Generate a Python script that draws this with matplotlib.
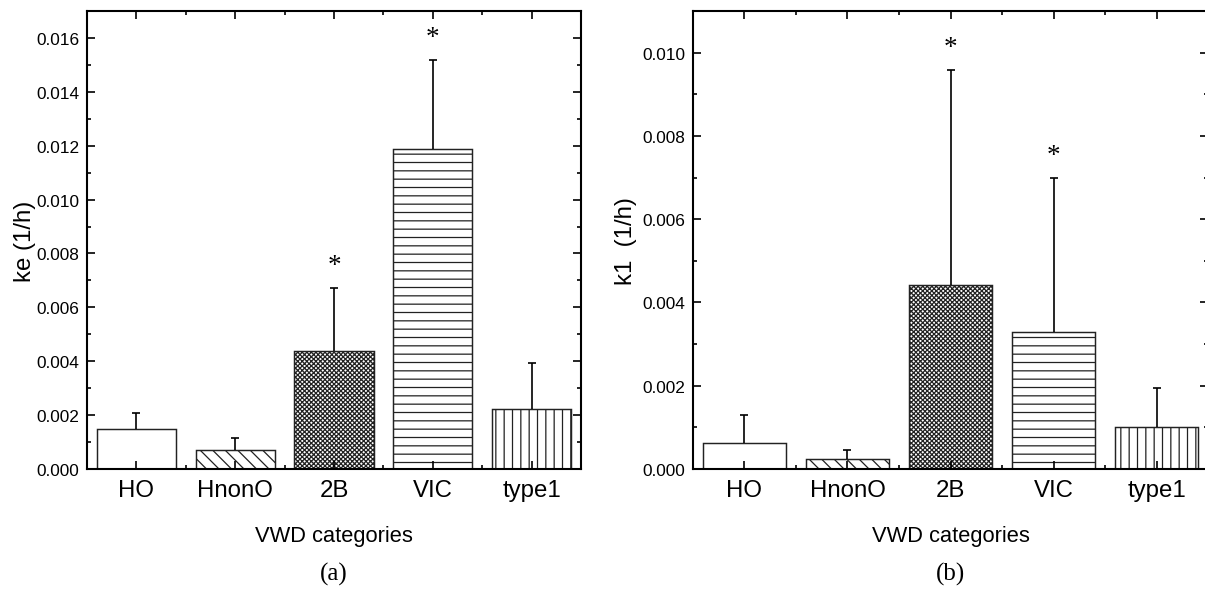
import matplotlib
matplotlib.use("Agg")
import matplotlib.pyplot as plt
import numpy as np
from matplotlib.ticker import FormatStrFormatter, MultipleLocator

# VWD categories and the two rate constants (mean and upper SD)
categories = ["HO", "HnonO", "2B", "VIC", "type1"]
hatches = ["", "\\" * 4, "x" * 11, "---", "|||"]

ke_mean = [0.00148, 0.00070, 0.00438, 0.01188, 0.00221]
ke_sd = [0.00059, 0.00044, 0.00233, 0.00329, 0.00174]
ke_signif = [False, False, True, True, False]

k1_mean = [0.00062, 0.00023, 0.00442, 0.00330, 0.00102]
k1_sd = [0.00068, 0.00023, 0.00516, 0.00368, 0.00092]
k1_signif = [False, False, True, True, False]

plt.rcParams["font.family"] = ["Liberation Sans", "DejaVu Sans"]
plt.rcParams["hatch.linewidth"] = 0.6
plt.rcParams["hatch.color"] = "black"

fig = plt.figure(figsize=(8.04, 3.9333), dpi=150)
ax_a = fig.add_axes([0.0721, 0.2034, 0.4097, 0.7763])
ax_b = fig.add_axes([0.5746, 0.2034, 0.4271, 0.7763])


def draw_panel(ax, means, sds, signif, ymax, ylabel, label_x, tag):
    x = np.arange(1, len(categories) + 1)
    for xi, m, h in zip(x, means, hatches):
        ax.bar(xi, m, width=0.8, color="white", edgecolor="#222222",
               linewidth=0.7, hatch=h, zorder=1)
    # one-sided error bars: hide the cap sitting on the bar top
    eb = ax.errorbar(x, means, yerr=[np.zeros(len(means)), sds], fmt="none",
                     ecolor="black", elinewidth=0.8, capsize=1.7,
                     capthick=0.8, zorder=2)
    for cap in eb.lines[1]:
        if np.allclose(cap.get_ydata(), means):
            cap.set_visible(False)
    for xi, m, s, star in zip(x, means, sds, signif):
        if star:
            ax.annotate("*", (xi, m + s), xytext=(0, 11),
                        textcoords="offset points", ha="center", va="center",
                        fontsize=13, family="Liberation Serif")

    ax.set_xlim(0.5, len(categories) + 0.5)
    ax.set_ylim(0, ymax)
    ax.set_xticks(x)
    ax.set_xticklabels(categories, fontsize=11.5)
    ax.xaxis.set_minor_locator(MultipleLocator(0.5))
    ax.yaxis.set_major_locator(MultipleLocator(0.002))
    ax.yaxis.set_minor_locator(MultipleLocator(0.001))
    ax.yaxis.set_major_formatter(FormatStrFormatter("%.3f"))

    ax.tick_params(which="both", direction="in", top=True, right=True,
                   width=0.8, colors="black")
    ax.tick_params(which="major", length=3.8)
    ax.tick_params(which="minor", length=2.0)
    ax.tick_params(axis="x", which="major", pad=5)
    ax.tick_params(axis="y", which="major", pad=3.8, labelsize=8.3)
    for sp in ax.spines.values():
        sp.set_linewidth(1.0)

    ax.set_xlabel("VWD categories", fontsize=10.5)
    ax.xaxis.set_label_coords(0.5, -0.146)
    ax.xaxis.label.set_va("center")
    ax.set_ylabel(ylabel, fontsize=11.5)
    ax.yaxis.set_label_coords(label_x, 0.5)
    ax.yaxis.label.set_va("center")

    bbox = ax.get_position()
    fig.text(bbox.x0 + bbox.width / 2, 0.027, tag, ha="center", va="center",
             fontsize=12, family="Liberation Serif")


draw_panel(ax_a, ke_mean, ke_sd, ke_signif, 0.017, "ke (1/h)", -0.126, "(a)")
draw_panel(ax_b, k1_mean, k1_sd, k1_signif, 0.011, "k1  (1/h)", -0.13, "(b)")

fig.savefig("out.png", dpi=150)
